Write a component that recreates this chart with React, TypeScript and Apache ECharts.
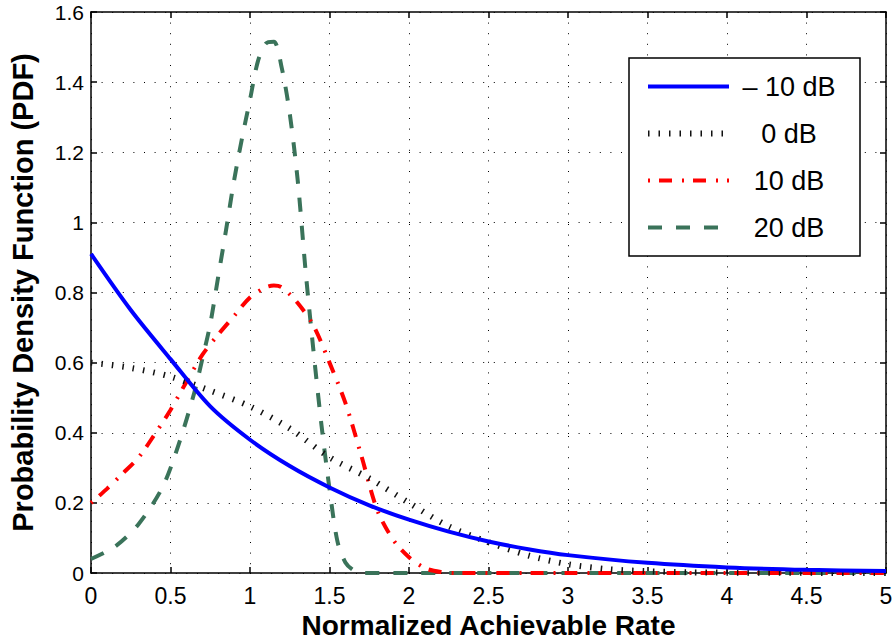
import React, { useEffect, useRef } from "react";
import * as echarts from "echarts";

const seriesNames = ["– 10 dB", "0 dB", "10 dB", "20 dB"];

const blueX = [0, 0.25, 0.5, 0.75, 1, 1.25, 1.5, 1.75, 2, 2.25, 2.5, 2.75, 3, 3.5, 4, 4.5, 5];
const blueY = [0.91, 0.75, 0.61, 0.475, 0.38, 0.305, 0.244, 0.193, 0.152, 0.118, 0.09, 0.068, 0.051, 0.029, 0.016, 0.009, 0.006];

const blackX = [0, 0.25, 0.5, 0.75, 1.0, 1.25, 1.5, 1.75, 2.0, 2.25, 2.5, 2.75, 3.0, 3.25, 3.5, 3.75, 4, 5];
const blackY = [0.6, 0.585, 0.56, 0.52, 0.475, 0.412, 0.33, 0.27, 0.2, 0.133, 0.088, 0.05, 0.025, 0.011, 0.005, 0.002, 0.001, 0];

const redX = [0, 0.1, 0.2, 0.3, 0.4, 0.5, 0.6, 0.7, 0.8, 0.9, 1.0, 1.1, 1.15, 1.2, 1.3, 1.4, 1.5, 1.6, 1.7, 1.8, 1.9, 2.0, 2.1, 2.2, 2.3, 3, 4, 5];
const redY = [0.2, 0.24, 0.284, 0.33, 0.395, 0.465, 0.545, 0.622, 0.68, 0.733, 0.786, 0.815, 0.82, 0.815, 0.77, 0.705, 0.6, 0.485, 0.335, 0.18, 0.095, 0.045, 0.014, 0.003, 0, 0, 0, 0];

const greenX = [0, 0.15, 0.3, 0.45, 0.55, 0.65, 0.7, 0.75, 0.8, 0.85, 0.9, 0.95, 1.0, 1.05, 1.1, 1.15, 1.2, 1.25, 1.3, 1.35, 1.4, 1.45, 1.5, 1.55, 1.6, 1.65, 1.7, 2, 3, 4, 5];
const greenY = [0.04, 0.075, 0.14, 0.245, 0.365, 0.515, 0.61, 0.71, 0.845, 0.98, 1.12, 1.24, 1.35, 1.46, 1.51, 1.515, 1.44, 1.31, 1.12, 0.86, 0.63, 0.42, 0.24, 0.09, 0.03, 0.008, 0, 0, 0, 0, 0];

const xTicks = [0, 0.5, 1, 1.5, 2, 2.5, 3, 3.5, 4, 4.5, 5];
const yTicks = [0, 0.2, 0.4, 0.6, 0.8, 1, 1.2, 1.4, 1.6];

const FONT = "Liberation Sans, Arial, sans-serif";

function pairs(xs: number[], ys: number[]) {
  return xs.map((x, i) => [x, ys[i]]);
}

export default function App() {
  const ref = useRef<HTMLDivElement>(null);
  useEffect(() => {
    if (!ref.current) return;
    const chart = echarts.init(ref.current, undefined, { renderer: "svg" });
    const gridLine = { show: true, lineStyle: { color: "#000", width: 1, type: [1, 9.6] as any } };
    const axisLine = { show: true, onZero: false, lineStyle: { color: "#000", width: 1.5 } };
    const tick = { show: true, inside: true, length: 6, lineStyle: { color: "#000", width: 1.5 } };
    const xBase = { type: "value" as const, min: xTicks[0], max: xTicks[xTicks.length - 1], interval: 0.5 };
    const yBase = { type: "value" as const, min: yTicks[0], max: yTicks[yTicks.length - 1], interval: 0.2 };
    chart.setOption({
      animation: false,
      backgroundColor: "#fff",
      textStyle: { fontFamily: FONT },
      grid: { left: 91, right: 9, top: 12, bottom: 69, containLabel: false, outerBoundsMode: "none" },
      xAxis: [
        {
          ...xBase,
          position: "bottom",
          axisLine,
          axisTick: tick,
          splitLine: gridLine,
          axisLabel: { color: "#000", fontSize: 23, fontFamily: FONT, margin: 11 },
          name: "Normalized Achievable Rate",
          nameLocation: "middle",
          nameGap: 38,
          nameMoveOverlap: false,
          nameTextStyle: { color: "#000", fontSize: 28, fontWeight: "bold", fontFamily: FONT },
        },
        {
          ...xBase,
          position: "top",
          axisLine,
          axisTick: tick,
          splitLine: { show: false },
          axisLabel: { show: false },
        },
      ],
      yAxis: [
        {
          ...yBase,
          position: "left",
          axisLine,
          axisTick: tick,
          splitLine: gridLine,
          axisLabel: { color: "#000", fontSize: 21, fontFamily: FONT, margin: 7 },
          name: "Probability Density Function (PDF)",
          nameLocation: "middle",
          nameGap: 54,
          nameMoveOverlap: false,
          nameTextStyle: { color: "#000", fontSize: 29, fontWeight: "bold", fontFamily: FONT },
        },
        {
          ...yBase,
          position: "right",
          axisLine,
          axisTick: tick,
          splitLine: { show: false },
          axisLabel: { show: false },
        },
      ],
      legend: {
        orient: "vertical",
        left: 629,
        top: 58,
        padding: [15, 16, 15, 16],
        itemWidth: 81,
        itemHeight: 14,
        itemGap: 20,
        backgroundColor: "#fff",
        borderColor: "#000",
        borderWidth: 1.5,
        borderRadius: 0,
        selectedMode: false,
        itemStyle: { opacity: 0, borderWidth: 0 },
        lineStyle: { width: "inherit" as any },
        formatter: (name: string) => `{c|${name}}`,
        textStyle: {
          color: "#000",
          fontSize: 27,
          fontFamily: FONT,
          lineHeight: 26,
          rich: { c: { width: 110, align: "center", fontSize: 27, fontFamily: FONT, color: "#000", lineHeight: 26 } },
        },
        data: seriesNames,
      },
      series: [
        {
          name: seriesNames[0],
          type: "line",
          data: pairs(blueX, blueY),
          symbol: "none",
          smooth: 0.3,
          clip: true,
          lineStyle: { color: "#0000ff", width: 4 },
          itemStyle: { color: "#0000ff" },
          z: 5,
        },
        {
          name: seriesNames[1],
          type: "line",
          data: pairs(blackX, blackY),
          symbol: "none",
          smooth: 0.3,
          clip: true,
          lineStyle: { color: "#111", width: 6, type: [1.5, 9], cap: "butt" },
          itemStyle: { color: "#111" },
          z: 4,
        },
        {
          name: seriesNames[2],
          type: "line",
          data: pairs(redX, redY),
          symbol: "none",
          smooth: 0.3,
          clip: true,
          lineStyle: { color: "#ff0000", width: 4, type: [2, 9, 13, 10], cap: "butt" },
          itemStyle: { color: "#ff0000" },
          z: 3,
        },
        {
          name: seriesNames[3],
          type: "line",
          data: pairs(greenX, greenY),
          symbol: "none",
          smooth: 0.3,
          clip: true,
          lineStyle: { color: "#3a735a", width: 4, type: [14, 14], cap: "butt" },
          itemStyle: { color: "#3a735a" },
          z: 2,
        },
      ],
    });
    return () => chart.dispose();
  }, []);
  return <div ref={ref} style={{ position: "fixed", left: 0, top: 0, width: 895, height: 642 }} />;
}
